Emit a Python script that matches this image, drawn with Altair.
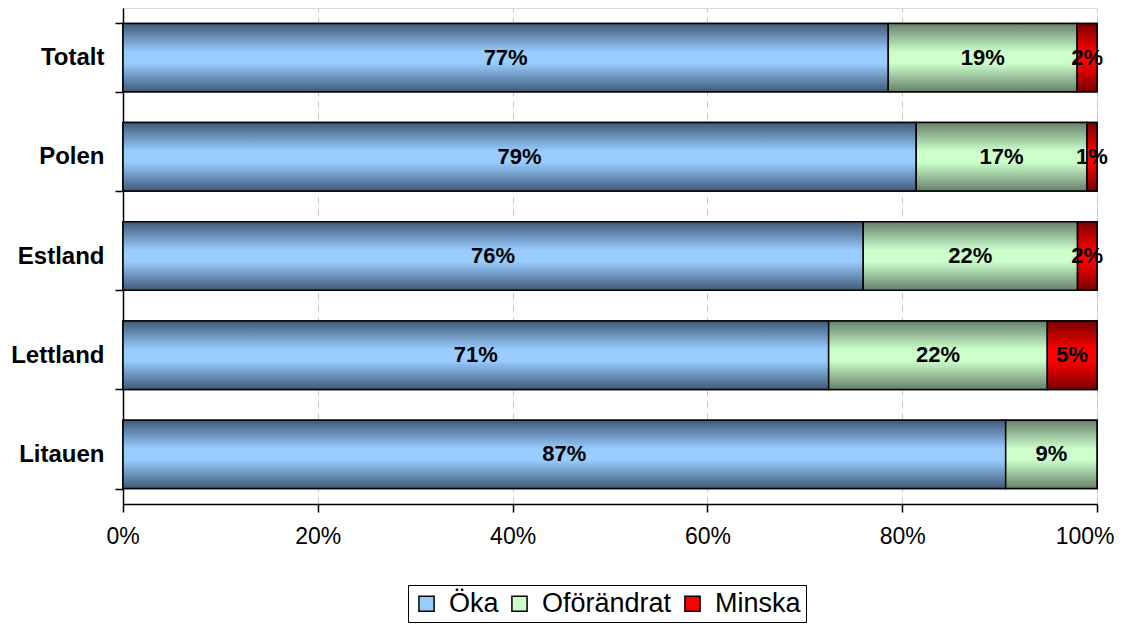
import altair as alt
import pandas as pd

countries = ["Totalt", "Polen", "Estland", "Lettland", "Litauen"]
series = ["Öka", "Oförändrat", "Minska"]
oka = [77, 79, 76, 71, 87]
oforandrat = [19, 17, 22, 22, 9]
minska = [2, 1, 2, 5, 0]
x_ticks = [0, 0.2, 0.4, 0.6, 0.8, 1.0]

flat_colors = ["#99ccff", "#ccffcc", "#ff0000"]
edge_colors = ["#3f5a78", "#66806a", "#780000"]

rows = []
for i, c in enumerate(countries):
    for j, (s, v) in enumerate(zip(series, [oka[i], oforandrat[i], minska[i]])):
        rows.append({"land": c, "serie": s, "ord": j, "val": v})
df = pd.DataFrame(rows)

FONT = "Liberation Sans"

base = (
    alt.Chart(df)
    .transform_filter("datum.val > 0")
    .transform_joinaggregate(tot="sum(val)", groupby=["land"])
    .transform_calculate(share="datum.val / datum.tot")
    .transform_stack(stack="share", as_=["x0", "x1"], groupby=["land"],
                     sort=[alt.SortField("ord", order="ascending")])
    .transform_calculate(mid="(datum.x0 + datum.x1) / 2",
                         lab="format(datum.val, 'd') + '%'")
)

x_enc = alt.X(
    "x0:Q",
    scale=alt.Scale(domain=[0, 1], nice=False, zero=True),
    axis=alt.Axis(
        values=x_ticks, format="%", title=None, grid=True, gridDash=[7, 5],
        gridColor="#c8c8c8", gridWidth=1, domainColor="black", domainWidth=1.5,
        tickColor="black", tickWidth=1.5, tickSize=8, labelFontSize=23,
        labelFont=FONT, labelColor="black", labelPadding=13,
        labelFlush=True, labelFlushOffset=17,
    ),
)
y_enc = alt.Y(
    "land:N",
    sort=countries,
    scale=alt.Scale(paddingInner=0.31, paddingOuter=0.155),
    axis=alt.Axis(
        title=None, tickBand="extent", domainColor="black", domainWidth=1.5,
        tickColor="black", tickWidth=1.5, tickSize=8, labelFontSize=24,
        labelFont=FONT, labelFontWeight="bold", labelColor="black",
        labelPadding=11,
    ),
)

legend_layer = base.mark_bar(stroke="black", strokeWidth=1.5).encode(
    x=x_enc,
    x2="x1:Q",
    y=y_enc,
    color=alt.Color(
        "serie:N",
        scale=alt.Scale(domain=series, range=flat_colors),
        sort=series,
        legend=alt.Legend(
            title=None, orient="none", legendX=285, legendY=577,
            direction="horizontal", strokeColor="black", padding=5,
            symbolType="square", symbolSize=230, symbolStrokeColor="black",
            symbolStrokeWidth=1.5, labelFontSize=27, labelFont=FONT,
            labelColor="black", labelOffset=9, columnPadding=7,
            symbolOpacity=1,
        ),
    ),
)

layers = [legend_layer]
for s, light, dark in zip(series, flat_colors, edge_colors):
    grad = {
        "gradient": "linear", "x1": 0, "y1": 0, "x2": 0, "y2": 1,
        "stops": [
            {"offset": 0, "color": dark},
            {"offset": 0.42, "color": light},
            {"offset": 0.58, "color": light},
            {"offset": 1, "color": dark},
        ],
    }
    layers.append(
        base.transform_filter(alt.datum.serie == s)
        .mark_bar(fill=grad, stroke="black", strokeWidth=1.5)
        .encode(x="x0:Q", x2="x1:Q", y=alt.Y("land:N", sort=countries))
    )

text_layer = base.mark_text(
    font=FONT, fontSize=22, fontWeight="bold", color="black"
).encode(x="mid:Q", y=alt.Y("land:N", sort=countries), text="lab:N")
layers.append(text_layer)

chart = (
    alt.layer(*layers)
    .properties(
        width=974, height=496,
        autosize=alt.AutoSizeParams(type="none"),
        padding={"left": 115, "top": 0, "right": 26, "bottom": 119},
    )
    .configure_view(stroke="black", strokeWidth=1.5)
    .configure(background="white")
)

chart.save("out.html", embed_options={"renderer": "svg", "actions": False})
